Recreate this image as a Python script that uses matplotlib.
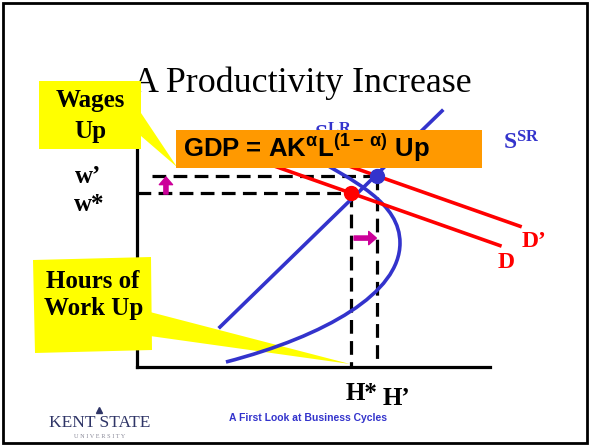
#生产率提高：劳动力市场示意图（幻灯片复刻）
import matplotlib
matplotlib.use("Agg")
from matplotlib import pyplot as plt
from matplotlib import patches, transforms
from matplotlib.path import Path

#字体设置
plt.rcParams['font.family'] = ['Liberation Serif', 'DejaVu Sans']
plt.rcParams['mathtext.fontset'] = 'custom'
plt.rcParams['mathtext.default'] = 'regular'

#准备数据 (横轴 hours, 纵轴 wage, 0~10)
h_star, w_star = 6.07, 7.66
h_new, w_new = 6.80, 8.42

#长期供给 S^LR
slr_h = [2.35, 8.64]
slr_w = [1.76, 11.28]

#短期供给 S^SR（向后弯曲，贝塞尔控制点）
ssr_h = [2.52, 5.35, 7.45, 7.45, 7.45, 6.18, 4.76]
ssr_w = [0.22, 1.37, 3.26, 5.46, 7.22, 8.19, 9.43]

#需求 D 和 D'
d_h = [3.20, 10.28]
d_w = [9.23, 5.35]
d2_h = [4.33, 10.85]
d2_w = [9.77, 6.20]

blue = '#3333CC'
red = '#FF0000'
magenta = '#CC0099'

#设置图形大小
fig = plt.figure(figsize=(5.9, 4.46), dpi=100)
ax = fig.add_axes([137/590, 79/446, 353/590, 227/446])
ax.set_xlim(0, 10)
ax.set_ylim(0, 10)
ax.patch.set_visible(False)
for s in ['top', 'right']:
    ax.spines[s].set_visible(False)
for s in ['left', 'bottom']:
    ax.spines[s].set_linewidth(2.3)
ax.set_xticks([])
ax.set_yticks([])

#像素坐标 (原图 590x446, y 向下)
px = transforms.Affine2D().scale(1/590, -1/446).translate(0, 1) + fig.transFigure


def txt(x, y, s, **kw):
    kw.setdefault('va', 'baseline')
    return ax.text(x, y, s, transform=px, clip_on=False, **kw)


def poly(pts, color, z):
    ax.add_patch(patches.Polygon(pts, closed=True, fc=color, ec='none',
                                 transform=px, clip_on=False, zorder=z))


#标题
txt(302, 92, "A Productivity Increase", fontsize=25.8, ha='center', zorder=1)

#黄色提示框
poly([(39, 81), (141, 81), (141, 149), (39, 149)], '#FFFF00', 3)
poly([(141, 113), (141, 136), (177, 167)], '#FFFF00', 3)
txt(90, 107, "Wages", fontsize=18, fontweight='bold', ha='center', zorder=3.5)
txt(90, 138, "Up", fontsize=18, fontweight='bold', ha='center', zorder=3.5)

poly([(33, 260), (151, 257), (152, 350), (35, 353)], '#FFFF00', 3)
poly([(150, 312), (150, 336), (350, 364)], '#FFFF00', 3)
txt(93, 288, "Hours of", fontsize=18, fontweight='bold', ha='center', zorder=3.5)
txt(94, 315, "Work Up", fontsize=18, fontweight='bold', ha='center', zorder=3.5)

#虚线
dash = dict(color='black', lw=2.3, dashes=(4.3, 2.3), zorder=4, clip_on=False)
ax.plot([0, h_star], [w_star, w_star], **dash)
ax.plot([0.42, h_new], [w_new, w_new], **dash)
ax.plot([h_star, h_star], [w_star, 0], **dash)
ax.plot([h_new, h_new], [w_new, 0.22], **dash)

#供给曲线
ax.plot(slr_h, slr_w, color=blue, lw=2.6, zorder=4, clip_on=False)
codes = [Path.MOVETO] + [Path.CURVE4] * 6
ssr = Path(list(zip(ssr_h, ssr_w)), codes)
ax.add_patch(patches.PathPatch(ssr, fill=False, ec=blue, lw=2.6, zorder=4, clip_on=False))

#需求曲线
ax.plot(d_h, d_w, color=red, lw=2.6, zorder=4.5, clip_on=False)
ax.plot(d2_h, d2_w, color=red, lw=2.6, zorder=4.5, clip_on=False)

#均衡点
ax.plot(h_star, w_star, 'o', color=red, ms=10, zorder=5)
ax.plot(h_new, w_new, 'o', color=blue, ms=10, zorder=5)

#箭头
arr = dict(arrowstyle="simple,head_length=0.55,head_width=0.95,tail_width=0.3",
           color=magenta, shrinkA=0, shrinkB=0, mutation_scale=10)
ax.annotate("", xy=(0.82, 8.37), xytext=(0.82, 7.62), arrowprops=arr, zorder=5)
ax.annotate("", xy=(6.78, 5.68), xytext=(6.15, 5.68), arrowprops=arr, zorder=5)

#标签
bold = dict(fontsize=17, fontweight='bold')
txt(314, 141, "S$^{LR}$", color=blue, zorder=5.5, **bold)
txt(503, 149, "S$^{SR}$", color=blue, zorder=5.5, **bold)
txt(522, 247, "D\u2019", color=red, **bold)
txt(498, 268, "D", color=red, **bold)
txt(88, 183, "w\u2019", fontsize=18, fontweight='bold', ha='center')
txt(89, 211, "w*", fontsize=18, fontweight='bold', ha='center')
txt(346, 400, "H*", fontsize=18, fontweight='bold')
txt(383, 405, "H\u2019", fontsize=18, fontweight='bold')

#橙色公式框
poly([(176, 130), (482, 130), (482, 168), (176, 168)], '#FF9900', 6)
txt(183, 157, r"GDP = AK$^{\alpha}$L$^{(1-\,\alpha)}$ Up", family='Liberation Sans',
    fontsize=18.5, fontweight='bold', zorder=7)

#页脚
txt(100, 427, "KENT STATE", fontsize=12.5, color='#2E3466', ha='center')
txt(100, 438, "U N I V E R S I T Y", fontsize=4.5, color='#8a8a99', ha='center')
ax.plot([99], [410], marker='^', ms=4, color='#2E3466', transform=px, clip_on=False)
txt(308, 421, "A First Look at Business Cycles", family='Liberation Sans',
    fontsize=7.5, fontweight='bold', color=blue, ha='center')

#外框
ax.add_patch(patches.Rectangle((3, 3), 584, 440, fill=False, ec='black', lw=2,
                               transform=px, clip_on=False, zorder=8))

plt.savefig("out.png", dpi=100)
